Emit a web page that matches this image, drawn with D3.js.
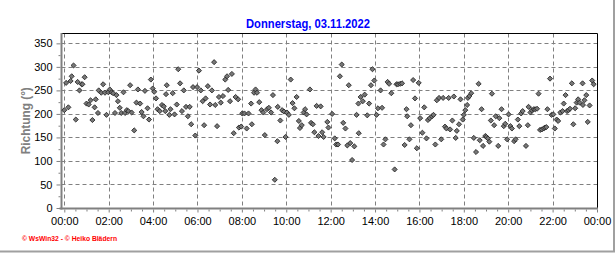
<!DOCTYPE html>
<html>
<head>
<meta charset="utf-8">
<script src="https://cdn.jsdelivr.net/npm/d3@7"></script>
<style>
  body { margin: 0; background: #fff; }
  svg { display: block; font-family: Arial, 'Liberation Sans', sans-serif; }
</style>
</head>
<body>
<script>
const title = 'Donnerstag, 03.11.2022'
const yLabel = 'Richtung (°)'
const footer = '© WsWin32 - © Heiko Blädern'

const hourTicks = [0, 120, 240, 360, 480, 600, 720, 840, 960, 1080, 1200, 1320, 1440]
const hourLabels = ['00:00', '02:00', '04:00', '06:00', '08:00', '10:00', '12:00',
  '14:00', '16:00', '18:00', '20:00', '22:00', '00:00']
const yTicks = [0, 50, 100, 150, 200, 250, 300, 350]

// minutes after midnight
const minutes = [
  0, 5, 11, 17, 20, 25, 31, 36, 41, 47, 49, 55, 60, 66, 71, 76, 82, 85, 91, 93,
  100, 105, 110, 114, 119, 123, 128, 132, 137, 141, 145, 150, 154, 160, 164, 169, 173, 178, 182, 189,
  195, 199, 205, 209, 214, 218, 225, 229, 234, 239, 243, 248, 252, 258, 264, 269, 273, 275, 277, 284,
  287, 293, 298, 304, 308, 313, 318, 323, 329, 334, 339, 343, 348, 354, 359, 364, 369, 374, 378, 382,
  388, 394, 399, 405, 408, 413, 418, 423, 429, 435, 440, 443, 448, 453, 458, 463, 470, 472, 478, 481,
  487, 493, 498, 505, 507, 513, 517, 521, 527, 533, 538, 542, 548, 553, 559, 564, 569, 576, 577, 584,
  589, 594, 598, 602, 607, 612, 617, 622, 628, 634, 637, 642, 647, 651, 655, 664, 667, 672, 676, 682,
  687, 693, 697, 701, 711, 714,
  724, 731, 735, 740, 745, 750, 754, 760, 765, 769, 773, 778, 784, 790, 795, 796, 801, 807, 812, 819,
  824, 829, 833, 838, 844, 848, 855, 859, 863, 868, 874, 878, 884, 893, 898, 902, 908, 913, 920, 925,
  927, 933, 937, 943, 948, 953, 958, 962, 968, 973, 979, 983, 988, 994, 998, 1003, 1007, 1013, 1019, 1024,
  1029, 1033, 1039, 1043, 1049, 1053, 1058, 1061, 1067, 1071, 1077, 1080, 1084, 1089, 1091, 1095, 1100, 1107, 1113, 1120,
  1123, 1128, 1132, 1138, 1141, 1145, 1149, 1153, 1156, 1162, 1166, 1173, 1176, 1182, 1188, 1192, 1197, 1201, 1206, 1210,
  1216, 1220, 1226, 1230, 1235, 1239, 1248, 1253, 1255, 1260, 1264, 1269, 1273, 1278, 1282, 1286, 1291, 1296, 1299, 1303,
  1306, 1313, 1317, 1322, 1326, 1331, 1335, 1341, 1347, 1350, 1355, 1359, 1363, 1367, 1372, 1376, 1381, 1385, 1389, 1393,
  1401, 1402, 1406, 1411, 1415, 1420, 1427, 1431
]

// wind direction in degrees
const direction = [
  208, 266, 214, 270, 280, 303, 188, 268, 250, 263, 263, 278, 222, 220, 229, 187, 214, 231, 202, 250,
  245, 263, 245, 198, 246, 252, 246, 244, 202, 240, 227, 213, 202, 246, 202, 208, 206, 261, 203, 165,
  224, 252, 222, 204, 195, 249, 212, 188, 273, 254, 247, 233, 210, 206, 219, 216, 206, 242, 261, 198,
  210, 244, 199, 220, 295, 265, 206, 250, 215, 195, 215, 178, 257, 154, 257, 292, 250, 227, 176, 233,
  259, 220, 250, 310, 219, 174, 236, 224, 238, 273, 280, 251, 227, 285, 159, 236, 231, 171, 173, 201,
  201, 169, 201, 222, 178, 245, 252, 245, 225, 208, 203, 155, 210, 213, 203, 240, 60, 142, 215, 186,
  208, 205, 151, 203, 198, 273, 223, 212, 236, 185, 170, 176, 203, 210, 199, 252, 181, 178, 161, 217,
  153, 216, 161, 151, 183, 171,
  200, 148, 135, 135, 280, 305, 181, 169, 133, 261, 138, 102, 131, 198, 222, 159, 236, 227, 241, 197,
  222, 261, 295, 271, 198, 212, 250, 213, 135, 146, 268, 264, 244, 82, 263, 263, 264, 265, 134, 210,
  195, 146, 176, 272, 233, 127, 266, 191, 160, 214, 148, 187, 191, 195, 198, 135, 229, 234, 146, 234,
  173, 169, 234, 167, 186, 237, 149, 164, 178, 231, 188, 198, 208, 219, 234, 238, 244, 149, 119, 264,
  144, 210, 132, 153, 151, 148, 141, 186, 243, 176, 195, 132, 191, 210, 174, 179, 146, 199, 174, 169,
  142, 146, 188, 174, 201, 206, 132, 176, 215, 203, 208, 210, 210, 211, 243, 166, 167, 169, 171, 172,
  210, 275, 198, 199, 169, 188, 185, 203, 206, 222, 240, 206, 208, 211, 265, 178, 212, 224, 231, 224,
  265, 219, 229, 240, 183, 218, 271, 263
]

const width = 616
const height = 253
const plot = { left: 61.5, right: 597.5, top: 33.5, bottom: 208.5 }

const svg = d3.select('body')
  .append('svg')
  .attr('width', width)
  .attr('height', height)

const x = d3.scaleLinear().domain([0, 1440]).range([64.3, 597])
const y = d3.scaleLinear().domain([0, 372]).range([208, 33])

// outer frame (grey right + bottom edge)
svg.append('line')
  .attr('x1', 614).attr('x2', 614).attr('y1', 0).attr('y2', 252)
  .attr('stroke', '#a0a0a0').attr('stroke-width', 2)
svg.append('line')
  .attr('x1', 0).attr('x2', 615).attr('y1', 251.5).attr('y2', 251.5)
  .attr('stroke', '#a0a0a0').attr('stroke-width', 2)

// title
svg.append('text')
  .attr('x', 308)
  .attr('y', 27.5)
  .attr('text-anchor', 'middle')
  .attr('fill', '#0000ff')
  .attr('font-weight', 'bold')
  .attr('textLength', 124)
  .attr('lengthAdjust', 'spacingAndGlyphs')
  .style('font-size', '13.5px')
  .text(title)

// dashed grid
const grid = svg.append('g')
  .attr('stroke', '#808080')
  .attr('stroke-dasharray', '4,3')

grid.selectAll('.hgrid')
  .data(yTicks.filter(d => d > 0))
  .join('line')
  .attr('x1', plot.left).attr('x2', plot.right)
  .attr('y1', d => Math.round(y(d)) + 0.5)
  .attr('y2', d => Math.round(y(d)) + 0.5)

grid.selectAll('.vgrid')
  .data(hourTicks.slice(0, -1))
  .join('line')
  .attr('x1', d => Math.round(x(d)) + 0.5)
  .attr('x2', d => Math.round(x(d)) + 0.5)
  .attr('y1', plot.top).attr('y2', plot.bottom)

// black frame top + right
svg.append('path')
  .attr('d', `M${plot.left},${plot.top}H${plot.right}V${plot.bottom}`)
  .attr('fill', 'none')
  .attr('stroke', '#000')

// Y axis: major + minor ticks
const yAxis = svg.append('g')
  .attr('transform', `translate(${plot.left - 1}, 0)`)
  .call(d3.axisLeft(y).tickValues(yTicks).tickSize(4).tickPadding(4))
yAxis.select('.domain').remove()
yAxis.selectAll('line').attr('stroke', '#808080')
yAxis.selectAll('text').attr('fill', '#000').style('font-size', '11px')

const yMinor = svg.append('g')
  .attr('transform', `translate(${plot.left - 1}, 0)`)
  .call(d3.axisLeft(y).tickValues(d3.range(25, 375, 50)).tickSize(2).tickFormat(''))
yMinor.select('.domain').remove()
yMinor.selectAll('line').attr('stroke', '#808080')

// X axis: major + minor ticks
const xAxis = svg.append('g')
  .attr('transform', `translate(0, ${plot.bottom + 1})`)
  .call(d3.axisBottom(x).tickValues(hourTicks).tickSize(3).tickPadding(5)
    .tickFormat((d, i) => hourLabels[i]))
xAxis.select('.domain').remove()
xAxis.selectAll('line').attr('stroke', '#808080')
xAxis.selectAll('text').attr('fill', '#000').style('font-size', '11px')

const xMinor = svg.append('g')
  .attr('transform', `translate(0, ${plot.bottom + 1})`)
  .call(d3.axisBottom(x).tickValues(d3.range(30, 1440, 30).filter(d => d % 120)).tickSize(2).tickFormat(''))
xMinor.select('.domain').remove()
xMinor.selectAll('line').attr('stroke', '#808080')

// thick grey axis lines
svg.append('line')
  .attr('x1', plot.left).attr('x2', plot.left)
  .attr('y1', plot.top - 0.5).attr('y2', plot.bottom + 1)
  .attr('stroke', '#808080').attr('stroke-width', 2)
svg.append('line')
  .attr('x1', plot.left - 2).attr('x2', plot.right + 0.5)
  .attr('y1', plot.bottom).attr('y2', plot.bottom)
  .attr('stroke', '#808080').attr('stroke-width', 2)

// axis title
svg.append('text')
  .attr('transform', 'translate(29.5, 120.7) rotate(-90)')
  .attr('text-anchor', 'middle')
  .attr('fill', '#808080')
  .attr('font-weight', 'bold')
  .attr('textLength', 67)
  .attr('lengthAdjust', 'spacingAndGlyphs')
  .style('font-size', '12px')
  .text(yLabel)

// diamonds
const diamond = d3.symbol(d3.symbolSquare, 13)
svg.append('g')
  .selectAll('path')
  .data(d3.zip(minutes, direction))
  .join('path')
  .attr('transform', d => `translate(${x(d[0])}, ${y(d[1])}) rotate(45)`)
  .attr('d', diamond)
  .attr('fill', '#777')
  .attr('stroke', '#222')
  .attr('stroke-width', 0.8)

// footer
svg.append('text')
  .attr('x', 22)
  .attr('y', 241)
  .attr('fill', '#ff0000')
  .attr('font-weight', 'bold')
  .attr('textLength', 95)
  .attr('lengthAdjust', 'spacingAndGlyphs')
  .style('font-size', '7px')
  .text(footer)
</script>
</body>
</html>
